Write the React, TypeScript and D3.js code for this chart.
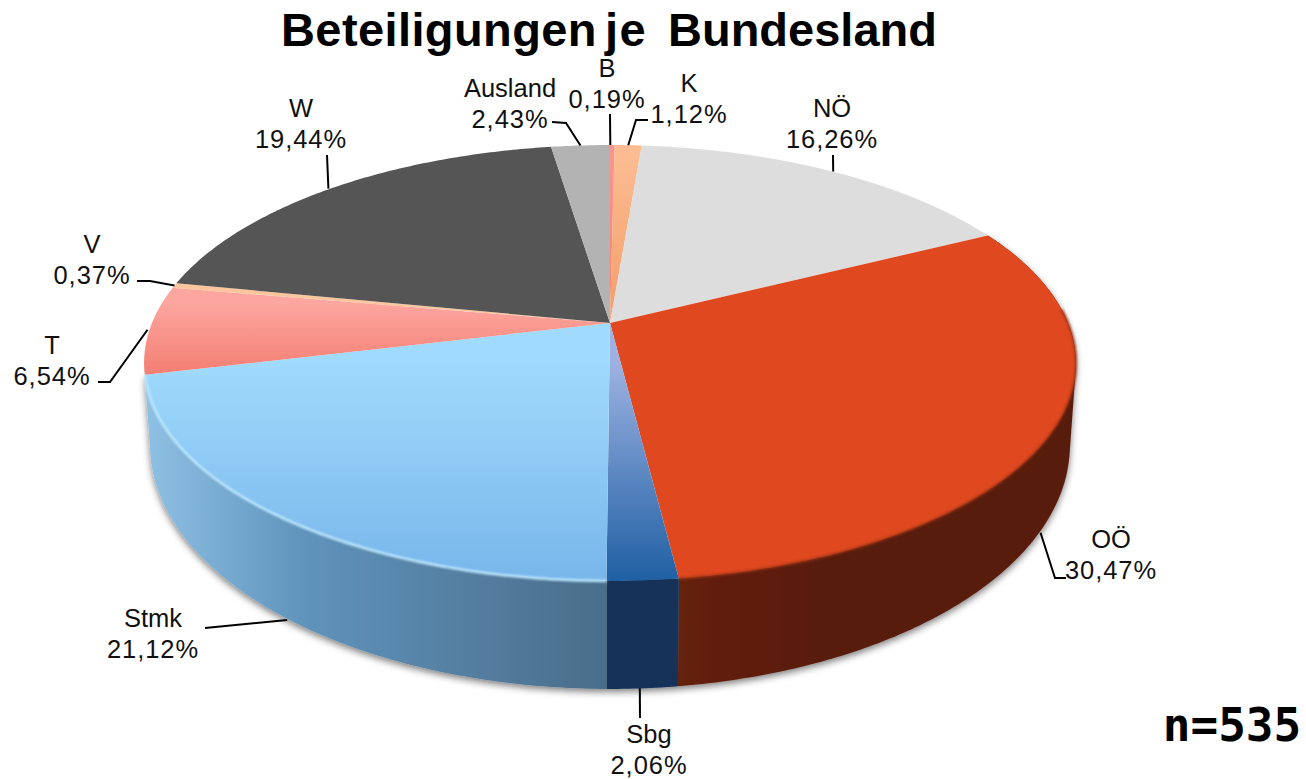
import React from "react";
import * as d3 from "d3";

const width = 1306;
const height = 779;

// Anteile je Bundesland, im Uhrzeigersinn ab 12 Uhr
const categories = ["B", "K", "NÖ", "OÖ", "Sbg", "Stmk", "T", "V", "W", "Ausland"];
const shares = [0.19, 1.12, 16.26, 30.47, 2.06, 21.12, 6.54, 0.37, 19.44, 2.43];
const shareLabels = ["0,19%", "1,12%", "16,26%", "30,47%", "2,06%", "21,12%", "6,54%", "0,37%", "19,44%", "2,43%"];
const titleWords = ["Beteiligungen", "je", "Bundesland"];

// perspective of the disc
const apexX = 610;
const apexY = 323;
const persp = 0.1835;
const radiusX = 458;
const radiusY = 210.6;
const midY = 363;
// lower rim ellipse of the wall, fitted to the outline
const rimCy = 445;
const rimScaleX = 460 / 466;
const rimScaleY = 244 / 218;

const projectTop = (a: number): [number, number] => {
  const u = Math.sin(a);
  const v = -Math.cos(a);
  const w = 1 - persp * v;
  return [apexX + (radiusX * u) / w, apexY + (radiusY * v) / w];
};

const projectBottom = (a: number): [number, number] => {
  const [x, y] = projectTop(a);
  return [apexX + (x - apexX) * rimScaleX, rimCy + (y - midY) * rimScaleY];
};

const arcPoints = (a0: number, a1: number, f: (a: number) => [number, number]) => {
  const n = Math.max(2, Math.ceil((a1 - a0) / 0.01));
  return d3.range(n + 1).map((i) => f(a0 + ((a1 - a0) * i) / n));
};

const line = d3.line();

const slices = d3
  .pie<number>()
  .sort(null)
  .value((d) => d)(shares);

// top face fill, gradient runs vertically over each slice
const topFills: Record<string, string[]> = {
  B: ["#fb948c", "#f4806f"],
  K: ["#fcbb90", "#f39d68"],
  "NÖ": ["#dddddd", "#dddddd"],
  "OÖ": ["#e04820", "#e04820"],
  Sbg: ["#9db2e2", "#1f5fa3"],
  Stmk: ["#a0dafc", "#78b6eb"],
  T: ["#fca69f", "#f37e72"],
  V: ["#fcc59c", "#fcc59c"],
  W: ["#555555", "#555555"],
  Ausland: ["#b3b3b3", "#b3b3b3"],
};

// front wall, gradient runs horizontally
const sideFills: Record<string, string[]> = {
  "OÖ": ["#652010", "#591c0d", "#591c0d"],
  Sbg: ["#123359", "#123359", "#123359"],
  Stmk: ["#8fc1e4", "#5f93bb", "#4a6d8a"],
};

// elbow points of the leader lines and text anchors
const labelLayout: Record<string, { x: number; y: number; path: [number, number][]; wall?: boolean; nudge?: [number, number] }> = {
  B: { x: 607, y: 77, path: [[610, 114]], nudge: [-2, 0] },
  K: { x: 689, y: 92, path: [[648, 120], [636, 120]] },
  "NÖ": { x: 832, y: 117, path: [[833, 155]], nudge: [1, 0] },
  "OÖ": { x: 1111, y: 548, path: [[1066, 578], [1055, 578]], wall: true, nudge: [-6, 11] },
  Sbg: { x: 649, y: 743, path: [[640, 718]], wall: true, nudge: [-2.5, 0] },
  Stmk: { x: 153, y: 627, path: [[205, 628]], wall: true, nudge: [5, 4] },
  T: { x: 52, y: 354, path: [[98, 382], [110, 382]], nudge: [-2, 0] },
  V: { x: 92, y: 253, path: [[137, 281], [150, 281]] },
  W: { x: 301, y: 117, path: [[327, 155]], nudge: [-2, 0] },
  Ausland: { x: 510, y: 97, path: [[552, 122], [566, 123]] },
};
const titleX = [281, 605, 668];
const titleSpacing = [0.4, 1.5, 0];

const font = "'Liberation Sans', Arial, sans-serif";

const App = () => {
  const front = slices.filter((s) => s.endAngle > Math.PI / 2 && s.startAngle < 1.4 * Math.PI);
  const rimOf = (name: string) => slices.filter((s) => categories[s.index] === name)[0];

  return (
    <svg width={width} height={height} style={{ position: "absolute", left: 0, top: 0, background: "#fff" }}>
      <defs>
        <filter id="shadow" x="-5%" y="-5%" width="110%" height="115%">
          <feDropShadow dx="0" dy="3" stdDeviation="3.5" floodColor="#000" floodOpacity="0.5" />
        </filter>
        <filter id="soft" x="-5%" y="-5%" width="110%" height="110%">
          <feGaussianBlur stdDeviation="0.8" />
        </filter>
        {slices.map((s) => {
          const name = categories[s.index];
          const c = topFills[name];
          const pts = [[apexX, apexY], ...arcPoints(s.startAngle, s.endAngle, projectTop)];
          const ys = d3.extent(pts, (p) => p[1]) as [number, number];
          const y1 = name === "Sbg" || name === "Stmk" ? ys[0] + 40 : ys[0] + 15;
          return (
            <linearGradient key={name} id={`top${s.index}`} gradientUnits="userSpaceOnUse" x1={0} x2={0} y1={y1} y2={ys[1]}>
              <stop offset="0" stopColor={c[0]} />
              <stop offset="1" stopColor={c[1]} />
            </linearGradient>
          );
        })}
        {front.map((s) => {
          const name = categories[s.index];
          const pts = arcPoints(s.startAngle, s.endAngle, projectTop);
          const xs = d3.extent(pts, (p) => p[0]) as [number, number];
          const c = sideFills[name];
          return (
            <linearGradient key={name} id={`side${s.index}`} gradientUnits="userSpaceOnUse" x1={xs[0]} x2={xs[1]} y1={0} y2={0}>
              <stop offset="0" stopColor={c[0]} />
              <stop offset="0.35" stopColor={c[1]} />
              <stop offset="1" stopColor={c[2]} />
            </linearGradient>
          );
        })}
      </defs>

      <text y={46} fontFamily={font} fontWeight="bold" fontSize={47} fill="#000">
        {titleWords.map((w, i) => (
          <tspan key={w} x={titleX[i]} letterSpacing={titleSpacing[i]}>
            {w}
          </tspan>
        ))}
      </text>

      <g filter="url(#shadow)">
        {front.map((s) => {
          // hull gives the tangent from the top rim down to the lower rim
          const pts = d3.polygonHull([
            ...arcPoints(s.startAngle, s.endAngle, projectTop),
            ...arcPoints(s.startAngle, s.endAngle, projectBottom),
          ]) as [number, number][];
          return <path key={s.index} d={line(pts) + "Z"} fill={`url(#side${s.index})`} />;
        })}
      </g>

      {slices.map((s) => {
        const pts = [[apexX, apexY], ...arcPoints(s.startAngle, s.endAngle, projectTop)];
        return <path key={s.index} d={line(pts as [number, number][]) + "Z"} fill={`url(#top${s.index})`} />;
      })}

      <path
        d={line(arcPoints(rimOf("Stmk").startAngle, rimOf("Stmk").endAngle, projectTop)) as string}
        fill="none"
        stroke="#bfe8fd"
        strokeWidth={2.5}
        filter="url(#soft)"
      />
      <path
        d={line(arcPoints(rimOf("OÖ").startAngle + 0.4, rimOf("OÖ").endAngle, projectTop)) as string}
        fill="none"
        stroke="#9c3417"
        strokeWidth={2}
        filter="url(#soft)"
      />

      {slices.map((s) => {
        const name = categories[s.index];
        const layout = labelLayout[name];
        const mid = (s.startAngle + s.endAngle) / 2;
        const base = layout.wall ? projectBottom(mid) : projectTop(mid);
        const nudge = layout.nudge || [0, 0];
        const anchor: [number, number] = [base[0] + nudge[0], base[1] + nudge[1]];
        return (
          <g key={name}>
            <path d={line([...layout.path, anchor]) as string} fill="none" stroke="#000" strokeWidth={2} />
            <text x={layout.x} y={layout.y} textAnchor="middle" fontFamily={font} fontSize={25.5} fill="#111">
              {name}
            </text>
            <text x={layout.x} y={layout.y + 31} textAnchor="middle" fontFamily={font} fontSize={25.5} letterSpacing={0.95} fill="#111">
              {shareLabels[s.index]}
            </text>
          </g>
        );
      })}

      <text x={1232} y={741} textAnchor="middle" fontFamily="'DejaVu Sans Mono', monospace" fontWeight="bold" fontSize={46} fill="#000">
        n=535
      </text>
    </svg>
  );
};

export default App;
